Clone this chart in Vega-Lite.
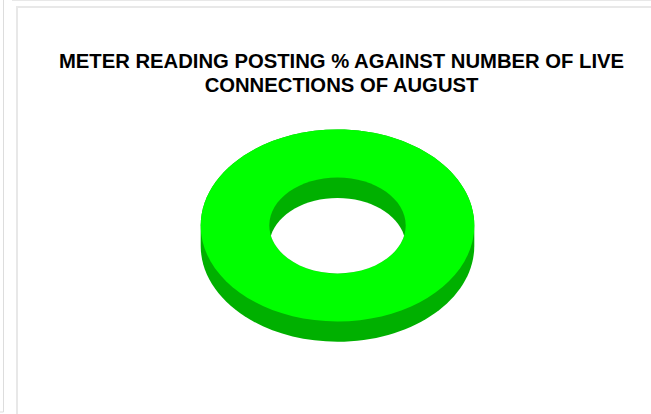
{"$schema":"https://vega.github.io/schema/vega-lite/v6.json","width":641,"height":437,"autosize":{"type":"none"},"padding":{"left":17,"top":7,"right":-7,"bottom":-30},"background":"white","view":{"stroke":"#e8e8e8","strokeWidth":2,"fill":"white"},"title":{"text":["METER READING POSTING % AGAINST NUMBER OF LIVE","CONNECTIONS OF AUGUST"],"font":"Liberation Sans","fontSize":20.25,"fontWeight":"bold","color":"#000000","anchor":"middle","lineHeight":24,"dx":4,"dy":124,"baseline":"bottom"},"data":{"values":[{"label":"Posted","percent":100}]},"layer":[{"mark":{"type":"point","filled":true,"opacity":1,"fill":"#00b000","stroke":null,"size":4,"shape":"M-136.8 0A136.8 96 0 0 1 136.8 0V20.3A136.8 96 0 0 1 -136.8 20.3Z"}},{"mark":{"type":"point","filled":true,"opacity":1,"fill":"#00ff00","stroke":null,"size":4,"shape":"M-136.8 0A136.8 96 0 0 1 136.8 0A136.8 96 0 0 1 -136.8 0Z"}},{"mark":{"type":"point","filled":true,"opacity":1,"fill":"#00b000","stroke":null,"size":4,"shape":"M-68.2 0A68.2 48 0 0 1 68.2 0A68.2 48 0 0 1 -68.2 0Z"}},{"mark":{"type":"point","filled":true,"opacity":1,"fill":"#ffffff","stroke":null,"size":4,"shape":"M-66.6 10.25A68.2 48 0 0 1 66.6 10.25A68.2 48 0 0 1 -66.6 10.25Z"}},{"mark":{"type":"point","filled":false,"opacity":1,"fill":null,"stroke":"#dddddd","strokeWidth":1,"size":4,"shape":"M-334 -225.5V186.5H-337.5"}},{"mark":{"type":"point","filled":false,"opacity":1,"fill":null,"stroke":"#e8e8e8","strokeWidth":2,"size":4,"shape":"M-325.5 -225.5H313.5"}}]}
